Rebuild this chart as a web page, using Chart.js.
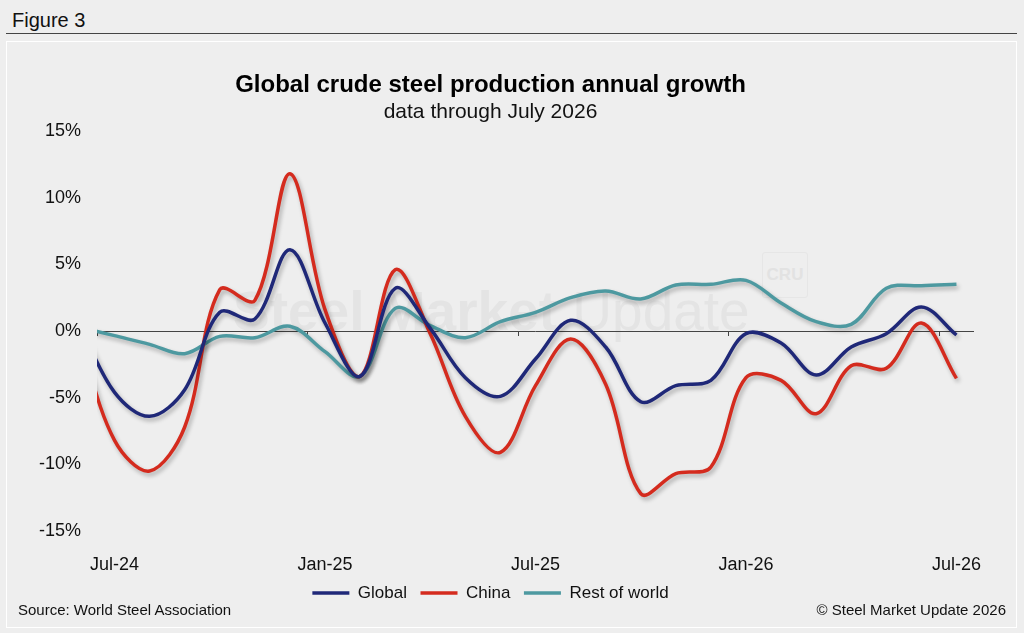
<!DOCTYPE html>
<html>
<head>
<meta charset="utf-8">
<title>Global crude steel production annual growth</title>
<script src="https://cdn.jsdelivr.net/npm/chart.js@4.4.0/dist/chart.umd.min.js"></script>
<style>
  body { margin:0; width:1024px; height:633px; background:#eeeeee; font-family:"Liberation Sans", Arial, sans-serif; color:#111; position:relative; overflow:hidden; }
  #fig { position:absolute; left:12px; top:10px; font-size:20px; line-height:20px; }
  #rule { position:absolute; left:6px; width:1011px; top:33px; border-top:1px solid #444; }
  #panel { position:absolute; left:6px; top:41px; width:1011px; height:587px; border:1px solid #fff; box-sizing:border-box; }
  #wm { position:absolute; left:233px; top:284px; font-size:55px; line-height:55px; color:#e4e4e4; white-space:nowrap; }
  #wm b { font-weight:bold; }
  #cru { position:absolute; left:762px; top:252px; width:44px; height:44px; border:1px solid #e6e6e6; border-radius:3px; color:#e2e2e2; font-size:17px; font-weight:bold; text-align:center; line-height:44px; }
  #wrap { position:absolute; left:7px; top:42px; width:1009px; height:585px; }
  #src, #copy { position:absolute; top:602px; font-size:15px; line-height:15px; }
  #src { left:18px; }
  #copy { right:18px; }
</style>
</head>
<body>
<div id="fig">Figure 3</div>
<div id="rule"></div>
<div id="panel"></div>
<div id="wm"><b>Steel Market</b> Update</div>
<div id="cru">CRU</div>
<div id="wrap"><canvas id="myChart"></canvas></div>
<div id="src">Source: World Steel Association</div>
<div id="copy">© Steel Market Update 2026</div>
<script>
// monthly points, first one (Jun-24) sits just left of the plot and is clipped
var months = ['Jun-24','Jul-24','Aug-24','Sep-24','Oct-24','Nov-24','Dec-24','Jan-25','Feb-25','Mar-25','Apr-25','May-25','Jun-25',
              'Jul-25','Aug-25','Sep-25','Oct-25','Nov-25','Dec-25','Jan-26','Feb-26','Mar-26','Apr-26','May-26','Jun-26','Jul-26'];
var global = [0.5, -4.6, -6.4, -4.4, 1.4, 0.9, 6.1, 0.6, -3.4, 3.2, 0.2, -3.5, -4.9, -2.1, 0.8, -1.2, -5.3, -4.1, -3.7, -0.2, -0.9, -3.3, -1.2, -0.2, 1.8, -0.3];
var china = [-0.5, -8.2, -10.5, -7.2, 3.1, 2.3, 11.8, 1.6, -3.4, 4.6, -0.2, -6.4, -9.1, -4.1, -0.6, -4.0, -12.2, -10.7, -10.2, -3.5, -3.7, -6.2, -2.6, -2.8, 0.6, -3.55];
var restOfWorld = [0.3, -0.35, -1.0, -1.7, -0.4, -0.5, 0.35, -1.55, -3.4, 1.7, 0.4, -0.5, 0.7, 1.4, 2.5, 3.0, 2.4, 3.45, 3.5, 3.8, 2.1, 0.7, 0.5, 3.2, 3.4, 3.5];
var labelMonths = ['Jul-24','Jan-25','Jul-25','Jan-26','Jul-26'];
var tickMonths = [-0.5, 5.5, 11.5, 17.5, 23.5];

function toPoints(arr) {
    return arr.map(function(v, i) { return { x: i - 1, y: v }; });
}

const lineShadow = {
    id: 'lineShadow',
    beforeDatasetDraw(chart) {
        const c = chart.ctx;
        c.save();
        c.shadowColor = 'rgba(0,0,0,0.28)';
        c.shadowBlur = 4;
        c.shadowOffsetX = 2;
        c.shadowOffsetY = 3;
    },
    afterDatasetDraw(chart) {
        chart.ctx.restore();
    }
};

// small tick marks hanging under the zero line
const zeroTicks = {
    id: 'zeroTicks',
    beforeDatasetsDraw(chart) {
        const c = chart.ctx, xs = chart.scales.x, y0 = chart.scales.y.getPixelForValue(0);
        c.save();
        c.strokeStyle = '#444';
        c.lineWidth = 1;
        tickMonths.forEach(function(v) {
            const px = Math.round(xs.getPixelForValue(v)) + 0.5;
            c.beginPath();
            c.moveTo(px, y0);
            c.lineTo(px, y0 + 5);
            c.stroke();
        });
        c.restore();
    }
};

const ctx = document.getElementById('myChart').getContext('2d');
const myChart = new Chart(ctx, {
    type: 'line',
    data: {
        datasets: [{
            label: 'Global',
            data: toPoints(global),
            borderColor: '#1f2878',
            backgroundColor: '#1f2878',
            borderWidth: 3.5
        }, {
            label: 'China',
            data: toPoints(china),
            borderColor: '#d42b1e',
            backgroundColor: '#d42b1e',
            borderWidth: 3.5
        }, {
            label: 'Rest of world',
            data: toPoints(restOfWorld),
            borderColor: '#4d99a0',
            backgroundColor: '#4d99a0',
            borderWidth: 3.5
        }]
    },
    options: {
        responsive: true,
        maintainAspectRatio: false,
        animation: false,
        layout: { padding: { left: 0, right: 42, top: 0, bottom: 15.5 } },
        elements: {
            line: { tension: 0.35 },
            point: { radius: 0, hoverRadius: 0 }
        },
        scales: {
            x: {
                type: 'linear',
                min: -0.5,
                max: 24.5,
                afterBuildTicks: function(scale) {
                    scale.ticks = labelMonths.map(function(m) { return { value: months.indexOf(m) - 1 }; });
                },
                afterFit: function(scale) { scale.height = 40; },
                grid: { display: false },
                border: { display: false },
                ticks: {
                    autoSkip: false,
                    maxRotation: 0,
                    padding: 15,
                    color: '#111',
                    font: { family: '"Liberation Sans", Arial, sans-serif', size: 18 },
                    callback: function(v) { return months[v + 1]; }
                }
            },
            y: {
                min: -15,
                max: 15,
                afterFit: function(scale) { scale.width = 90; },
                border: { display: false },
                grid: {
                    drawTicks: false,
                    color: function(c) { return c.tick && c.tick.value === 0 ? '#444' : 'rgba(0,0,0,0)'; },
                    lineWidth: 1
                },
                ticks: {
                    stepSize: 5,
                    padding: 16,
                    color: '#111',
                    font: { family: '"Liberation Sans", Arial, sans-serif', size: 18 },
                    callback: function(v) { return v + '%'; }
                }
            }
        },
        plugins: {
            title: {
                display: true,
                text: 'Global crude steel production annual growth',
                color: '#000',
                font: { family: '"Liberation Sans", Arial, sans-serif', size: 24, weight: 'bold' },
                padding: { top: 29, bottom: 0 }
            },
            subtitle: {
                display: true,
                text: 'data through July 2026',
                color: '#111',
                font: { family: '"Liberation Sans", Arial, sans-serif', size: 21 },
                padding: { top: 0, bottom: 6 }
            },
            legend: {
                position: 'bottom',
                labels: {
                    usePointStyle: true,
                    pointStyle: 'line',
                    pointStyleWidth: 37,
                    padding: 13.5,
                    color: '#111',
                    font: { family: '"Liberation Sans", Arial, sans-serif', size: 17 }
                }
            },
            tooltip: { enabled: false }
        }
    },
    plugins: [lineShadow, zeroTicks]
});
</script>
</body>
</html>
